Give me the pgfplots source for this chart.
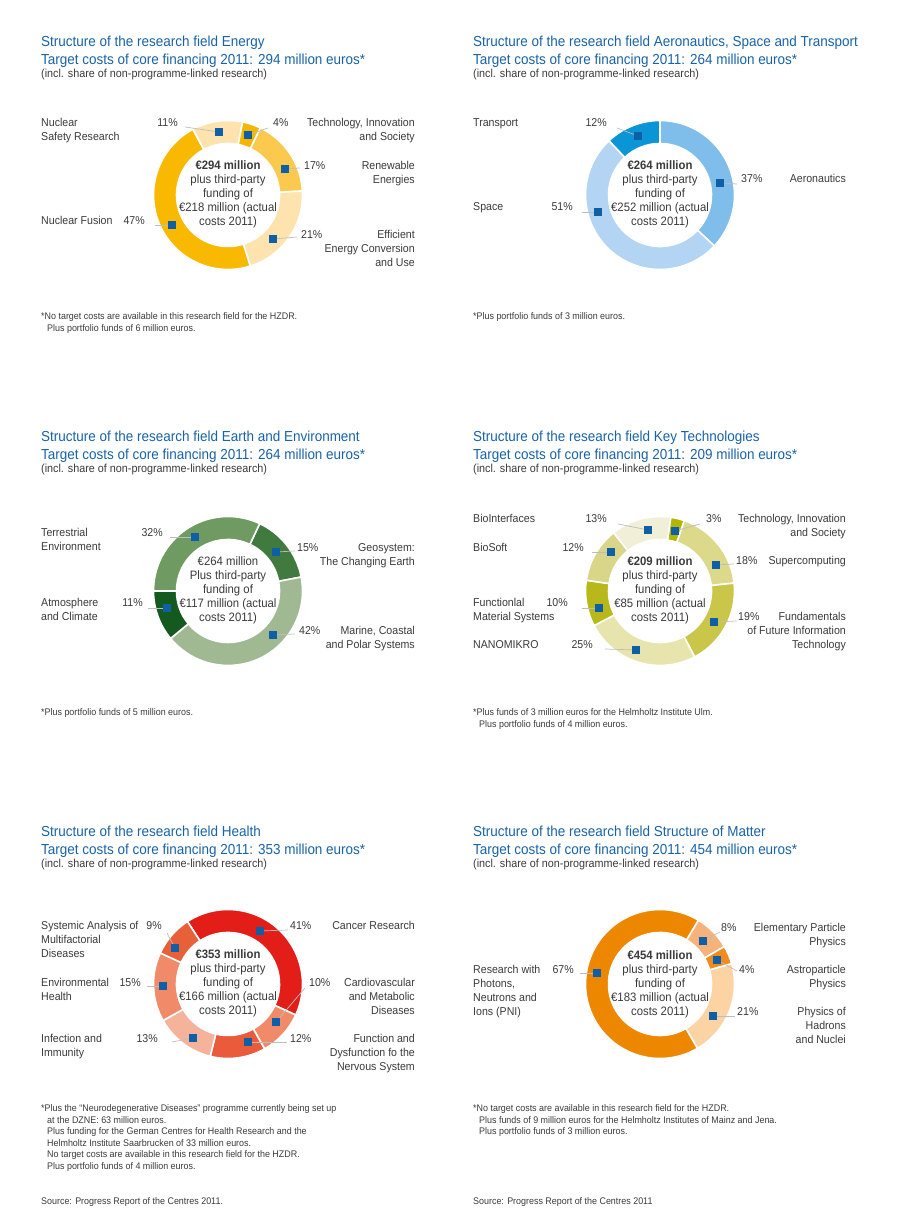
\documentclass[border=0pt]{standalone}
\usepackage{fontspec}
\setmainfont{Liberation Sans}[FakeStretch=0.93]
\usepackage{pgfplots}
\usepackage{pgfplotstable}
\pgfplotsset{compat=1.18}

\definecolor{tblue}{HTML}{1862A8}
\definecolor{txt}{HTML}{3A3A3A}
\definecolor{mblue}{HTML}{0F5FA6}
\definecolor{leadc}{HTML}{BDBDBD}
% Energy
\definecolor{E0}{HTML}{FEE3AE}\definecolor{E1}{HTML}{F5B500}\definecolor{E2}{HTML}{FBC94D}
\definecolor{E3}{HTML}{FEE3AE}\definecolor{E4}{HTML}{F8B900}
% Aeronautics
\definecolor{A0}{HTML}{7FBDEA}\definecolor{A1}{HTML}{B3D4F2}\definecolor{A2}{HTML}{0A95D6}
% Earth
\definecolor{G0}{HTML}{417A3E}\definecolor{G1}{HTML}{A0B993}\definecolor{G2}{HTML}{145A1E}\definecolor{G3}{HTML}{6F9A62}
% Key technologies
\definecolor{K0}{HTML}{B3B600}\definecolor{K1}{HTML}{DCD98A}\definecolor{K2}{HTML}{C9C64A}
\definecolor{K3}{HTML}{E7E4AE}\definecolor{K4}{HTML}{B8B81A}\definecolor{K5}{HTML}{D9D68A}\definecolor{K6}{HTML}{F1EFD8}
% Health
\definecolor{H0}{HTML}{E31E18}\definecolor{H1}{HTML}{F08A68}\definecolor{H2}{HTML}{E95B3B}
\definecolor{H3}{HTML}{F6B39B}\definecolor{H4}{HTML}{F08A68}\definecolor{H5}{HTML}{E8603A}
% Matter
\definecolor{M0}{HTML}{F6B27B}\definecolor{M1}{HTML}{EF8B1F}\definecolor{M2}{HTML}{FCD3A3}\definecolor{M3}{HTML}{EE8700}

% pct = share, (mx,my) = marker, (lx,ly) = end of leader line, relative to the centre
\pgfplotstableread{
pct mx my lx ly
11 -9 63 -43 68
4 20 60 40 67
17 57 26 72 27
21 45 -44 69 -42
47 -56 -30 -73 -30
}\tabEnergy
\pgfplotstableread{
pct mx my lx ly
37 60 12 77 11
51 -62 -17 -78 -17
12 -22 59 -43 67
}\tabAero
\pgfplotstableread{
pct mx my lx ly
15 48 39 67 40
42 45 -44 67 -43
11 -61 -17 -80 -17
32 -33 54 -58 54
}\tabEarth
\pgfplotstableread{
pct mx my lx ly
3 15 60 40 67
18 56 26 74 27
19 54 -31 77 -30
25 -24 -59 -55 -58
10 -61 -17 -78 -17
12 -49 39 -68 39
13 -12 61 -42 67
}\tabKey
\pgfplotstableread{
pct mx my lx ly
41 32 53 60 54
10 48 -38 77 -4
12 20 -58 59 -58
13 -35 -54 -56 -58
15 -65 -2 -81 -2
9 -53 36 -61 51
}\tabHealth
\pgfplotstableread{
pct mx my lx ly
8 43 43 60 52
4 57 24 77 13
21 53 -32 75 -32
67 -63 11 -80 11
}\tabMatter

\newcommand\Ro{74.5}
\newcommand\Ri{51.5}
\newcommand\donut[3]{%
 \pgfplotsextra{%
  \pgfplotstablegetrowsof{#1}%
  \pgfmathtruncatemacro\lastrow{\pgfplotsretval-1}%
  \xdef\curang{#2}%
  \foreach \i in {0,...,\lastrow}{%
   \pgfplotstablegetelem{\i}{pct}\of{#1}\let\p\pgfplotsretval
   \pgfmathsetmacro\endang{\curang-3.6*\p}%
   \fill[#3\i,draw=white,line width=1.6pt] (axis cs:0,0) ++(\curang:\Ro pt)
     arc[start angle=\curang,end angle=\endang,radius=\Ro pt]
     -- ([shift={(\endang:\Ri pt)}]axis cs:0,0)
     arc[start angle=\endang,end angle=\curang,radius=\Ri pt] -- cycle;%
   \xdef\curang{\endang}%
  }%
  \foreach \i in {0,...,\lastrow}{%
   \pgfplotstablegetelem{\i}{mx}\of{#1}\let\mx\pgfplotsretval
   \pgfplotstablegetelem{\i}{my}\of{#1}\let\my\pgfplotsretval
   \pgfplotstablegetelem{\i}{lx}\of{#1}\let\lx\pgfplotsretval
   \pgfplotstablegetelem{\i}{ly}\of{#1}\let\ly\pgfplotsretval
   \draw[leadc,line width=0.7pt] (axis cs:\mx,\my) -- (axis cs:\lx,\ly);%
  }%
 }%
 \addplot[only marks,mark=square*,mark size=3.4pt,color=mblue] table[x=mx,y=my]{#1};
}

\pgfplotsset{donutaxis/.style={anchor=origin,x=1pt,y=1pt,xmin=-85,xmax=85,ymin=-85,ymax=85,
  hide axis,clip=false,scale only axis}}

\tikzset{
 lab/.style={font=\fontsize{11.4}{14}\selectfont,text=txt,inner sep=0pt},
 ttl/.style={font=\fontsize{14.5}{17}\selectfont,text=tblue,inner sep=0pt,anchor=base west},
 sub/.style={font=\fontsize{11.6}{14}\selectfont,text=txt,inner sep=0pt,anchor=base west},
 fn/.style={font=\fontsize{9.6}{11}\selectfont,text=txt,inner sep=0pt,anchor=base west},
 ctr/.style={font=\fontsize{12.2}{14}\selectfont,text=txt,inner sep=0pt,anchor=base},
}
\newcommand\Lt[3]{\node[lab,anchor=base west] at (#1,#2) {#3};}
\newcommand\Rt[3]{\node[lab,anchor=base east] at (#1,#2) {#3};}
\newcommand\Ct[3]{\node[ctr] at (#1,#2) {#3};}

\begin{document}
\begin{tikzpicture}
\path[use as bounding box] (0pt,0pt) rectangle (900pt,1230pt);

\begin{axis}[donutaxis,at={(228pt,1035pt)}]
\donut{\tabEnergy}{118.2}{E}
\end{axis}
\begin{axis}[donutaxis,at={(660pt,1035pt)}]
\donut{\tabAero}{90}{A}
\end{axis}
\begin{axis}[donutaxis,at={(228pt,639pt)}]
\donut{\tabEarth}{64.8}{G}
\end{axis}
\begin{axis}[donutaxis,at={(660pt,639pt)}]
\donut{\tabKey}{81.7}{K}
\end{axis}
\begin{axis}[donutaxis,at={(228pt,246pt)}]
\donut{\tabHealth}{123}{H}
\end{axis}
\begin{axis}[donutaxis,at={(660pt,246pt)}]
\donut{\tabMatter}{59}{M}
\end{axis}

\begin{scope}[shift={(0pt,1230pt)},x=1pt,y=-1pt]
% ---------------- Energy
\node[ttl] at (41,47) {Structure of the research field Energy};
\node[ttl] at (41,65) {Target costs of core financing 2011: 294 million euros*};
\node[sub] at (41,78) {(incl. share of non-programme-linked research)};
\Lt{41}{127}{Nuclear}\Lt{41}{141}{Safety Research}
\Rt{178}{127}{11\%}
\Lt{273}{127}{4\%}
\Rt{415}{127}{Technology, Innovation}\Rt{415}{141}{and Society}
\Lt{304}{170}{17\%}
\Rt{415}{170}{Renewable}\Rt{415}{184}{Energies}
\Lt{301}{239}{21\%}
\Rt{415}{239}{Efficient}\Rt{415}{253}{Energy Conversion}\Rt{415}{267}{and Use}
\Lt{41}{225}{Nuclear Fusion}\Rt{145}{225}{47\%}
\Ct{228}{170}{\textbf{€294 million}}\Ct{228}{184}{plus third-party}\Ct{228}{198}{funding of}
\Ct{228}{212}{€218 million (actual}\Ct{228}{226}{costs 2011)}
\node[fn] at (41,320) {*No target costs are available in this research field for the HZDR.};
\node[fn] at (47,332) {Plus portfolio funds of 6 million euros.};
% ---------------- Aeronautics
\node[ttl] at (473,47) {Structure of the research field Aeronautics, Space and Transport};
\node[ttl] at (473,65) {Target costs of core financing 2011: 264 million euros*};
\node[sub] at (473,78) {(incl. share of non-programme-linked research)};
\Lt{473}{127}{Transport}\Rt{607}{127}{12\%}
\Lt{741}{183}{37\%}\Rt{846}{183}{Aeronautics}
\Lt{473}{211}{Space}\Rt{573}{211}{51\%}
\Ct{660}{170}{\textbf{€264 million}}\Ct{660}{184}{plus third-party}\Ct{660}{198}{funding of}
\Ct{660}{212}{€252 million (actual}\Ct{660}{226}{costs 2011)}
\node[fn] at (473,320) {*Plus portfolio funds of 3 million euros.};
% ---------------- Earth
\node[ttl] at (41,442) {Structure of the research field Earth and Environment};
\node[ttl] at (41,460) {Target costs of core financing 2011: 264 million euros*};
\node[sub] at (41,473) {(incl. share of non-programme-linked research)};
\Lt{41}{537}{Terrestrial}\Lt{41}{551}{Environment}\Rt{163}{537}{32\%}
\Lt{297}{552}{15\%}\Rt{415}{552}{Geosystem:}\Rt{415}{566}{The Changing Earth}
\Lt{41}{607}{Atmosphere}\Lt{41}{621}{and Climate}\Rt{143}{607}{11\%}
\Lt{299}{635}{42\%}\Rt{415}{635}{Marine, Coastal}\Rt{415}{649}{and Polar Systems}
\Ct{228}{566}{€264 million}\Ct{228}{580}{Plus third-party}\Ct{228}{594}{funding of}
\Ct{228}{608}{€117 million (actual}\Ct{228}{622}{costs 2011)}
\node[fn] at (41,716) {*Plus portfolio funds of 5 million euros.};
% ---------------- Key Technologies
\node[ttl] at (473,442) {Structure of the research field Key Technologies};
\node[ttl] at (473,460) {Target costs of core financing 2011: 209 million euros*};
\node[sub] at (473,473) {(incl. share of non-programme-linked research)};
\Lt{473}{523}{BioInterfaces}\Rt{607}{523}{13\%}
\Lt{706}{523}{3\%}\Rt{846}{523}{Technology, Innovation}\Rt{846}{537}{and Society}
\Lt{473}{552}{BioSoft}\Rt{584}{552}{12\%}
\Lt{736}{565}{18\%}\Rt{846}{565}{Supercomputing}
\Lt{473}{607}{Functionlal}\Lt{473}{621}{Material Systems}\Rt{568}{607}{10\%}
\Lt{738}{621}{19\%}\Rt{846}{621}{Fundamentals}\Rt{846}{635}{of Future Information}\Rt{846}{649}{Technology}
\Lt{473}{649}{NANOMIKRO}\Rt{593}{649}{25\%}
\Ct{660}{566}{\textbf{€209 million}}\Ct{660}{580}{plus third-party}\Ct{660}{594}{funding of}
\Ct{660}{608}{€85 million (actual}\Ct{660}{622}{costs 2011)}
\node[fn] at (473,716) {*Plus funds of 3 million euros for the Helmholtz Institute Ulm.};
\node[fn] at (479,728) {Plus portfolio funds of 4 million euros.};
% ---------------- Health
\node[ttl] at (41,837) {Structure of the research field Health};
\node[ttl] at (41,855) {Target costs of core financing 2011: 353 million euros*};
\node[sub] at (41,868) {(incl. share of non-programme-linked research)};
\Lt{41}{930}{Systemic Analysis of}\Lt{41}{944}{Multifactorial}\Lt{41}{958}{Diseases}\Rt{162}{930}{9\%}
\Lt{290}{930}{41\%}\Rt{415}{930}{Cancer Research}
\Lt{41}{987}{Environmental}\Lt{41}{1001}{Health}\Rt{141}{987}{15\%}
\Lt{309}{987}{10\%}\Rt{415}{987}{Cardiovascular}\Rt{415}{1001}{and Metabolic}\Rt{415}{1015}{Diseases}
\Lt{41}{1043}{Infection and}\Lt{41}{1057}{Immunity}\Rt{158}{1043}{13\%}
\Lt{290}{1043}{12\%}\Rt{415}{1043}{Function and}\Rt{415}{1057}{Dysfunction fo the}\Rt{415}{1071}{Nervous System}
\Ct{228}{959}{\textbf{€353 million}}\Ct{228}{973}{plus third-party}\Ct{228}{987}{funding of}
\Ct{228}{1001}{€166 million (actual}\Ct{228}{1015}{costs 2011)}
\node[fn] at (41,1112) {*Plus the “Neurodegenerative Diseases” programme currently being set up};
\node[fn] at (47,1123.5) {at the DZNE: 63 million euros.};
\node[fn] at (47,1135) {Plus funding for the German Centres for Health Research and the};
\node[fn] at (47,1146.5) {Helmholtz Institute Saarbrucken of 33 million euros.};
\node[fn] at (47,1158) {No target costs are available in this research field for the HZDR.};
\node[fn] at (47,1169.5) {Plus portfolio funds of 4 million euros.};
\node[fn] at (41,1205) {Source: Progress Report of the Centres 2011.};
% ---------------- Matter
\node[ttl] at (473,837) {Structure of the research field Structure of Matter};
\node[ttl] at (473,855) {Target costs of core financing 2011: 454 million euros*};
\node[sub] at (473,868) {(incl. share of non-programme-linked research)};
\Lt{721}{932}{8\%}\Rt{846}{932}{Elementary Particle}\Rt{846}{946}{Physics}
\Lt{739}{974}{4\%}\Rt{846}{974}{Astroparticle}\Rt{846}{988}{Physics}
\Lt{473}{974}{Research with}\Lt{473}{988}{Photons,}\Lt{473}{1002}{Neutrons and}\Lt{473}{1016}{Ions (PNI)}
\Rt{574}{974}{67\%}
\Lt{737}{1016}{21\%}\Rt{846}{1016}{Physics of}\Rt{846}{1030}{Hadrons}\Rt{846}{1044}{and Nuclei}
\Ct{660}{960}{\textbf{€454 million}}\Ct{660}{974}{plus third-party}\Ct{660}{988}{funding of}
\Ct{660}{1002}{€183 million (actual}\Ct{660}{1016}{costs 2011)}
\node[fn] at (473,1112) {*No target costs are available in this research field for the HZDR.};
\node[fn] at (479,1123.5) {Plus funds of 9 million euros for the Helmholtz Institutes of Mainz and Jena.};
\node[fn] at (479,1135) {Plus portfolio funds of 3 million euros.};
\node[fn] at (473,1205) {Source: Progress Report of the Centres 2011};
\end{scope}
\end{tikzpicture}
\end{document}
